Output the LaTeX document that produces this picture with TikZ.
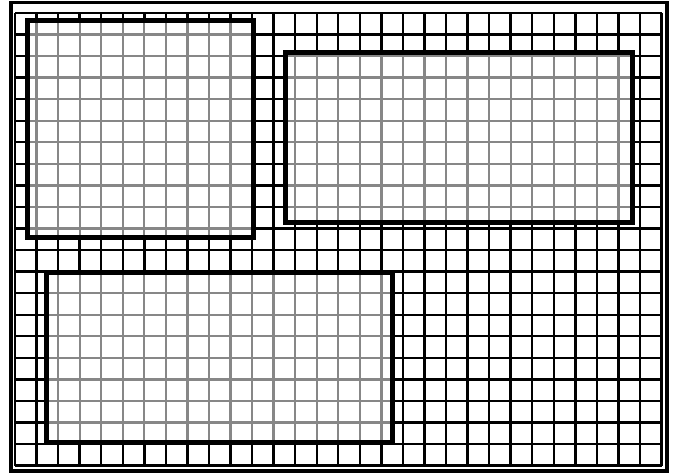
\documentclass[tikz,border=0pt]{standalone}
\usepackage{tikz}
\usepackage{xcolor}
\definecolor{gridgray}{RGB}{135,135,135}

\newcommand{\plotarea}[4]{%
  \fill[white] (#1,#2) rectangle (#3,#4);
  \begin{scope}
    \clip (#1,#2) rectangle (#3,#4);
    \foreach \i in {0,...,30} \draw[innerline] ({15+21.55*\i},13) -- ({15+21.55*\i},465.6);
    \foreach \j in {0,...,21} \draw[innerline] (15,{13+21.55*\j}) -- (661.5,{13+21.55*\j});
  \end{scope}
  \draw[plotbox] (#1,#2) rectangle (#3,#4);
}

\begin{document}
\begin{tikzpicture}[x=1pt,y=-1pt]
  \tikzset{
    gridline/.style={draw=black,line width=2.4pt},
    innerline/.style={draw=gridgray,line width=2.3pt},
    plotbox/.style={draw=black,line width=5pt,line join=miter},
    frame/.style={draw=black,line width=3.2pt}
  }
  \useasboundingbox (0,0) rectangle (679,473);
  % background grid
  \foreach \i in {0,...,30} \draw[gridline] ({15+21.55*\i},13) -- ({15+21.55*\i},465.6);
  \foreach \j in {0,...,21} \draw[gridline] (15,{13+21.55*\j}) -- (661.5,{13+21.55*\j});
  \draw[frame] (11,2.5) rectangle (667,471);
  % plot areas
  \plotarea{27}{21}{253}{237}
  \plotarea{285.5}{52.5}{632.5}{222}
  \plotarea{46}{272}{392}{442}
\end{tikzpicture}
\end{document}
